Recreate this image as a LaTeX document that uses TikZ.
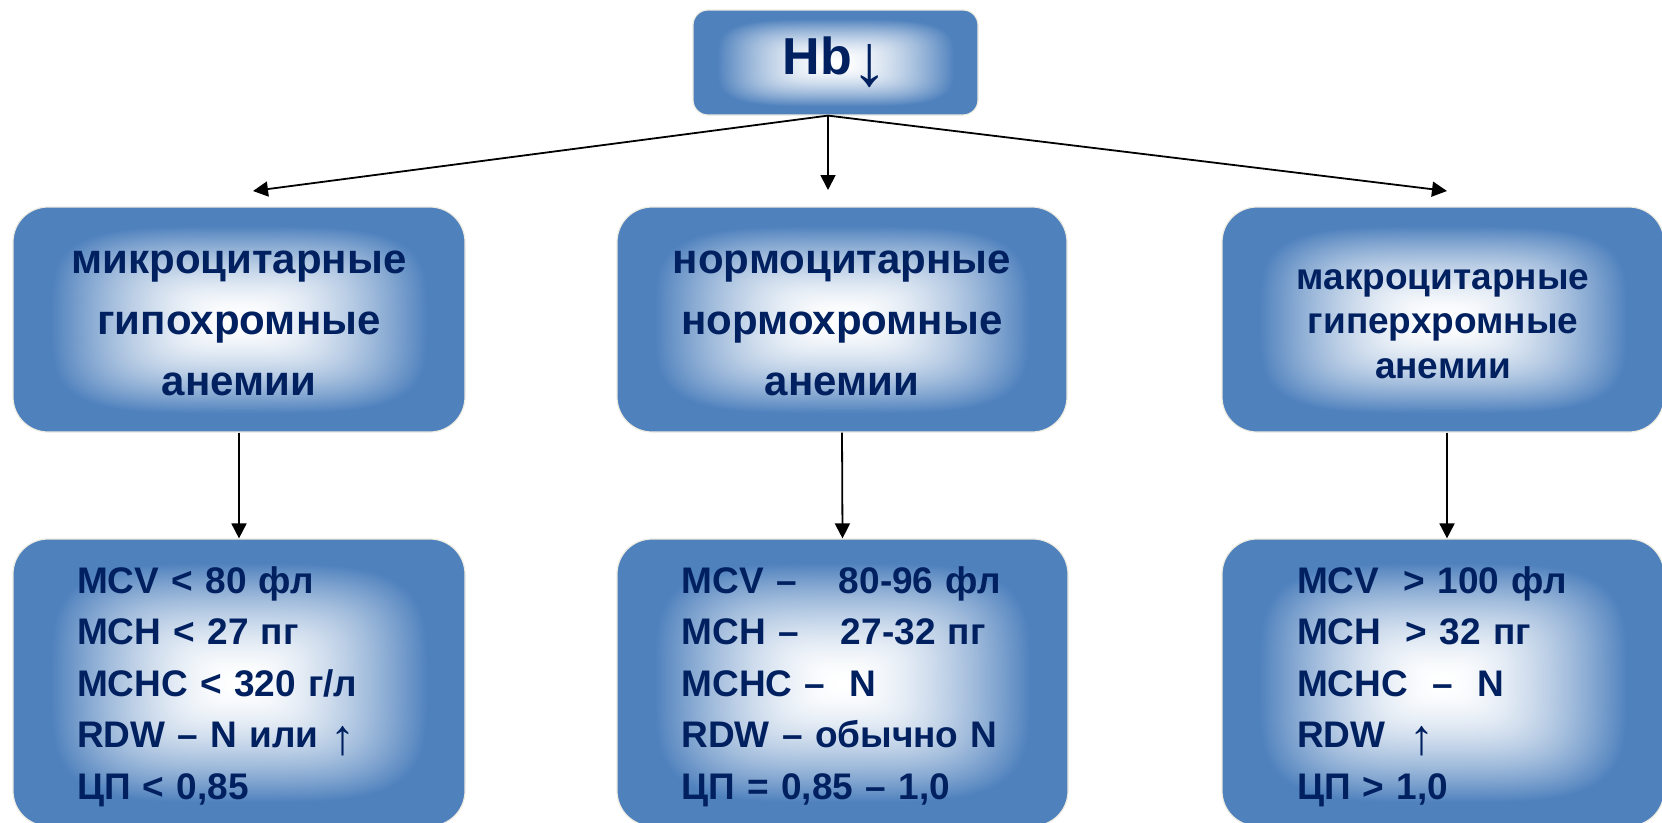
\documentclass[tikz,border=0pt]{standalone}
\usepackage{fontspec}
\setmainfont{Liberation Sans}
\usetikzlibrary{arrows.meta}

\definecolor{boxblue}{RGB}{79,129,189}
\definecolor{boxedge}{RGB}{238,236,225}
\definecolor{textnavy}{RGB}{0,32,96}

% thin arrows in the text
\newcommand{\thinup}{\raisebox{-7pt}{\mdseries\fontsize{50}{50}\selectfont ↑}}
\newcommand{\thindown}{\raisebox{-11pt}{\mdseries\fontsize{73}{73}\selectfont ↓}}

% white in the middle, blue to the edge of the box
\pgfdeclarefunctionalshading{centerfade}{\pgfpoint{-50bp}{-50bp}}{\pgfpoint{50bp}{50bp}}{}{
  abs 25 div 4 exp exch abs 25 div 4 exp add 0.25 exp
  1.2 mul dup 1 gt {pop 1} if 1.7 exp
  dup 0.69 mul 1 exch sub exch
  dup 0.494 mul 1 exch sub exch
  0.259 mul 1 exch sub}

\begin{document}
\begin{tikzpicture}[x=1pt,y=-1pt,
    box/.style={draw=boxedge, line width=1.2pt, rounded corners=35pt, shade, shading=centerfade,
      text=textnavy, inner sep=0pt},
    typebox/.style={box, minimum height=225pt, align=center},
    labbox/.style={box, minimum height=287pt, align=left,
      font=\fontsize{37}{51.4}\selectfont\bfseries},
    arr/.style={-{Triangle[length=15pt,width=15pt]}, line width=1.8pt}]
  \useasboundingbox (0,0) rectangle (1662,822);
  \clip (0,0) rectangle (1662,822);

  % top
  \node[box, rounded corners=15pt, minimum width=285pt, minimum height=105pt,
    font=\fontsize{52}{60}\selectfont\bfseries] (hb) at (835.5,62.5) {Hb\thindown};

  % types of anemia
  \node[typebox, minimum width=452pt, font=\fontsize{42}{61}\selectfont\bfseries]
    (mikro) at (239,319.5) {\rule{0pt}{30pt}микроцитарные\\гипохромные\\анемии};
  \node[typebox, minimum width=450pt, font=\fontsize{42}{61}\selectfont\bfseries]
    (normo) at (842,319.5) {\rule{0pt}{30pt}нормоцитарные\\нормохромные\\анемии};
  \node[typebox, minimum width=442pt, font=\fontsize{37}{44.5}\selectfont\bfseries]
    (makro) at (1443,319.5) {\rule{0pt}{29pt}макроцитарные\\гиперхромные\\анемии};

  % indices
  \node[labbox, minimum width=452pt, text width=324pt] (mikrolab) at (239,682.5)
    {\rule{0pt}{35pt}MCV < 80 фл\\MCH < 27 пг\\MCHC < 320 г/л\\RDW – N или \thinup\\ЦП < 0,85};
  \node[labbox, minimum width=451pt, text width=322pt] (normolab) at (842.5,682.5)
    {\rule{0pt}{35pt}MCV –\hspace{30pt} 80-96 фл\\MCH –\hspace{30pt} 27-32 пг\\MCHC –\hspace{12pt} N\\RDW – обычно N\\ЦП = 0,85 – 1,0};
  \node[labbox, minimum width=442pt, text width=292pt] (makrolab) at (1443,682.5)
    {\rule{0pt}{35pt}MCV\hspace{12pt} > 100 фл\\MCH\hspace{12pt} > 32 пг\\MCHC\hspace{12pt} –\hspace{12pt} N\\RDW\hspace{12pt} \thinup\\ЦП > 1,0};

  % arrows
  \coordinate (tipl) at (253,191);
  \coordinate (tipm) at (828,190);
  \coordinate (tipr) at (1447,191);
  \draw[arr] ([xshift=-7.5pt]hb.south) -- (tipl);
  \draw[arr] ([xshift=-7.5pt]hb.south) -- (tipm);
  \draw[arr] ([xshift=-7.5pt]hb.south) -- (tipr);
  \draw[arr] (mikro.south) -- (mikrolab.north);
  \draw[arr] (normo.south) -- (normolab.north);
  \draw[arr] ([xshift=4pt]makro.south) -- ([xshift=4pt]makrolab.north);
\end{tikzpicture}
\end{document}
